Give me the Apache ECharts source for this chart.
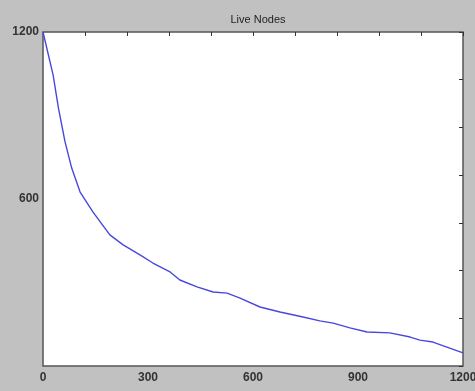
<style>
    html, body {
        margin: 0;
        overflow: hidden;
    }
</style>
<div id="main" style="width:475px; height:391px;"></div>
<script src="https://cdn.jsdelivr.net/npm/echarts@6/dist/echarts.min.js"></script>
<script>
    // values
    var xs = [0, 29, 44, 63, 82, 106, 143, 191, 229, 277, 314, 363, 391, 440, 486, 526, 563, 620, 677, 743,
        791, 829, 877, 926, 991, 1049, 1077, 1114, 1154, 1200];
    var ys = [1200, 1045, 927, 805, 711, 625, 553, 471, 435, 399, 370, 338, 309, 284, 266, 262, 244, 212, 194, 176,
        162, 154, 137, 122, 119, 104, 93, 86, 68, 47];
    var xLabels = [0, 300, 600, 900, 1200];
    var yLabels = [600, 1200];

    var pts = [];
    for (var i = 0; i < xs.length; i++) {
        pts.push([xs[i], ys[i]]);
    }

    var chart = echarts.init(document.getElementById('main'), null, {renderer: 'canvas'});
    var labelStyle = {color: '#333', fontSize: 12, fontWeight: 'bold', fontFamily: 'Liberation Sans'};
    chart.setOption({
        backgroundColor: '#c1c1c1',
        animation: false,
        title: {
            text: 'Live Nodes', left: 253, top: 5, textAlign: 'center',
            textStyle: {color: '#222', fontSize: 11, fontWeight: 'normal', fontFamily: 'Liberation Sans'}
        },
        grid: {
            left: 43, right: 12, top: 32, bottom: 25, outerBoundsMode: 'none',
            show: true, backgroundColor: '#fff', borderColor: '#555', borderWidth: 1.5
        },
        xAxis: [{
            type: 'value', min: 0, max: 1200, interval: 300,
            axisLine: {show: false, onZero: false}, axisTick: {show: false}, splitLine: {show: false},
            axisLabel: {
                ...labelStyle, margin: 1,
                formatter: function (v) { return xLabels.indexOf(v) >= 0 ? v : ''; }
            }
        }, {
            type: 'value', position: 'top', min: 0, max: 1200, interval: 120,
            axisLine: {show: false, onZero: false}, splitLine: {show: false}, axisLabel: {show: false},
            axisTick: {show: true, inside: true, length: 4, lineStyle: {color: '#333'}}
        }],
        yAxis: [{
            type: 'value', min: 0, max: 1200, interval: 600,
            axisLine: {show: false, onZero: false}, axisTick: {show: false}, splitLine: {show: false},
            axisLabel: {
                ...labelStyle, margin: 4,
                formatter: function (v) { return yLabels.indexOf(v) >= 0 ? v : ''; }
            }
        }, {
            type: 'value', position: 'right', min: 0, max: 1200, interval: 1200 / 7,
            axisLine: {show: false, onZero: false}, splitLine: {show: false}, axisLabel: {show: false},
            axisTick: {show: true, inside: true, length: 4, lineStyle: {color: '#333'}}
        }],
        series: [{
            type: 'line', data: pts, showSymbol: false, smooth: false,
            lineStyle: {color: '#4848dd', width: 1.4}
        }]
    });
</script>
